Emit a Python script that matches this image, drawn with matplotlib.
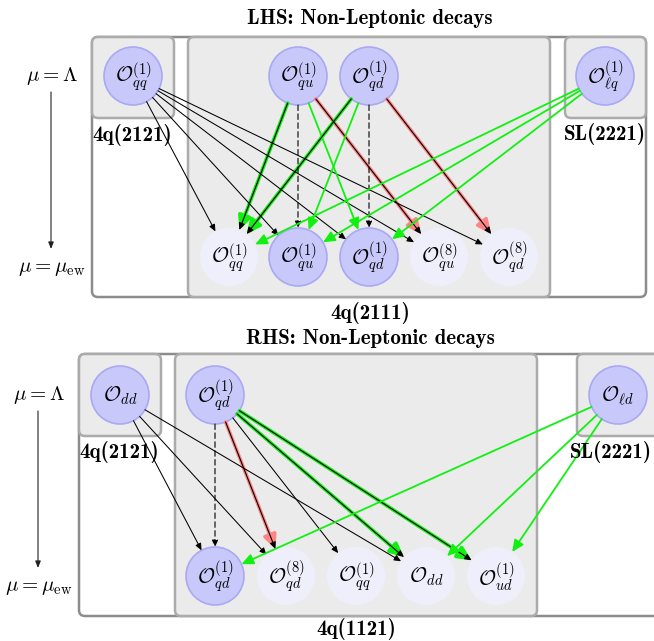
import matplotlib
matplotlib.use("Agg")
import matplotlib.pyplot as plt
from matplotlib.patches import FancyBboxPatch, Circle, FancyArrowPatch
import numpy as np

plt.rcParams['mathtext.fontset'] = 'cm'

# ---------------- data ----------------
titles = ["LHS: Non-Leptonic decays", "RHS: Non-Leptonic decays"]
scale_labels = [r"$\mu = \Lambda$", r"$\mu = \mu_{\rm ew}$"]

# panel 1 (LHS)
lhs_upper = ["qq1", "qu1", "qd1", "lq1"]
lhs_upper_labels = [r"$\mathcal{O}_{qq}^{(1)}$", r"$\mathcal{O}_{qu}^{(1)}$",
                    r"$\mathcal{O}_{qd}^{(1)}$", r"$\mathcal{O}_{\ell q}^{(1)}$"]
lhs_lower = ["qq1", "qu1", "qd1", "qu8", "qd8"]
lhs_lower_labels = [r"$\mathcal{O}_{qq}^{(1)}$", r"$\mathcal{O}_{qu}^{(1)}$",
                    r"$\mathcal{O}_{qd}^{(1)}$", r"$\mathcal{O}_{qu}^{(8)}$",
                    r"$\mathcal{O}_{qd}^{(8)}$"]
lhs_lower_filled = [False, True, True, False, False]
lhs_edges = [  # (from upper, to lower, kind)
    ("qq1", "qq1", "black"), ("qq1", "qu1", "black"), ("qq1", "qd1", "black"),
    ("qq1", "qu8", "black"), ("qq1", "qd8", "black"),
    ("qu1", "qq1", "greenblack"), ("qu1", "qu1", "dashed"),
    ("qu1", "qd1", "green"), ("qu1", "qu8", "redblack"),
    ("qd1", "qq1", "greenblack"), ("qd1", "qu1", "green"),
    ("qd1", "qd1", "dashed"), ("qd1", "qd8", "redblack"),
    ("lq1", "qq1", "green"), ("lq1", "qu1", "green"), ("lq1", "qd1", "green"),
]
lhs_groups = ["4q(2121)", "4q(2111)", "SL(2221)"]

# panel 2 (RHS)
rhs_upper = ["dd", "qd1", "ld"]
rhs_upper_labels = [r"$\mathcal{O}_{dd}$", r"$\mathcal{O}_{qd}^{(1)}$",
                    r"$\mathcal{O}_{\ell d}$"]
rhs_lower = ["qd1", "qd8", "qq1", "dd", "ud1"]
rhs_lower_labels = [r"$\mathcal{O}_{qd}^{(1)}$", r"$\mathcal{O}_{qd}^{(8)}$",
                    r"$\mathcal{O}_{qq}^{(1)}$", r"$\mathcal{O}_{dd}$",
                    r"$\mathcal{O}_{ud}^{(1)}$"]
rhs_lower_filled = [True, False, False, False, False]
rhs_edges = [
    ("dd", "qd1", "black"), ("dd", "qd8", "black"), ("dd", "dd", "black"),
    ("qd1", "qd1", "dashed"), ("qd1", "qd8", "redblack"),
    ("qd1", "qq1", "black"), ("qd1", "dd", "greenblack"),
    ("qd1", "ud1", "greenblack"),
    ("ld", "qd1", "green"), ("ld", "dd", "green"), ("ld", "ud1", "green"),
]
rhs_groups = ["4q(2121)", "4q(1121)", "SL(2221)"]

# ---------------- layout (pixel coordinates) ----------------
W, H = 654, 641
fig = plt.figure(figsize=(W / 100, H / 100), dpi=100)
ax = fig.add_axes([0, 0, 1, 1])
ax.set_xlim(0, W)
ax.set_ylim(H, 0)
ax.axis('off')

R = 29
FILL = '#c8c8fa'
FILL_EDGE = '#a9a9f3'
LIGHT = '#efeffc'
BOXFILL = '#ebebeb'
BOXEDGE = '#ababab'
OUTEREDGE = '#8c8c8c'
GREEN = '#11f011'
RED = '#ff8484'
BOLD = 'cmb10'
MATH_FS = 15
BOLD_FS = 15


def rbox(x0, y0, x1, y1, fc, ec, lw=1.8, z=1):
    p = FancyBboxPatch((x0, y0), x1 - x0, y1 - y0,
                       boxstyle="round,pad=0,rounding_size=6",
                       fc=fc, ec=ec, lw=lw, zorder=z)
    ax.add_patch(p)


def node(x, y, label, filled):
    if filled:
        c = Circle((x, y), R, fc=FILL, ec=FILL_EDGE, lw=1.2, zorder=3)
    else:
        c = Circle((x, y), R, fc=LIGHT, ec='none', zorder=3)
    ax.add_patch(c)
    ax.text(x, y + 1, label, ha='center', va='center', fontsize=MATH_FS, zorder=6)


def arrow(p0, p1, kind):
    p0 = np.array(p0, float)
    p1 = np.array(p1, float)
    d = (p1 - p0) / np.linalg.norm(p1 - p0)
    a = p0 + d * R
    b = p1 - d * R
    if kind == "black":
        ax.add_patch(FancyArrowPatch(a, b, arrowstyle='-|>,head_length=4,head_width=1.8',
                                     color='black', lw=0.75, shrinkA=0, shrinkB=0, zorder=5))
    elif kind == "dashed":
        ax.add_patch(FancyArrowPatch(a, b, arrowstyle='-|>,head_length=4,head_width=1.8',
                                     color='black', lw=0.8, ls=(0, (5, 3)),
                                     shrinkA=0, shrinkB=0, zorder=5))
    elif kind == "green":
        ax.add_patch(FancyArrowPatch(a, b, arrowstyle='-|>,head_length=7,head_width=3.2',
                                     color=GREEN, lw=1.3, shrinkA=0, shrinkB=0, zorder=5))
    elif kind in ("greenblack", "redblack"):
        col = GREEN if kind == "greenblack" else RED
        ax.add_patch(FancyArrowPatch(a, b, arrowstyle='-|>,head_length=8,head_width=3.8',
                                     color=col, lw=2.6, shrinkA=0, shrinkB=0, zorder=4))
        ax.add_patch(FancyArrowPatch(a, b, arrowstyle='-|>,head_length=4,head_width=1.8',
                                     color='black', lw=0.8, shrinkA=0, shrinkB=0, zorder=5))


def panel(title, ty, y_top, y_bot, outer, boxes, group_labels, glab_pos,
          upper, upper_labels, upper_x, lower, lower_labels, lower_x, lower_filled,
          edges, y_up, y_low, mu_x):
    ax.text(370, ty, title, ha='center', va='center', fontsize=BOLD_FS, family=BOLD)
    rbox(outer[0], y_top, outer[1], y_bot, 'white', OUTEREDGE, lw=1.8, z=1)
    for (x0, x1, yb) in boxes:
        rbox(x0, y_top, x1, yb, BOXFILL, BOXEDGE, lw=1.8, z=2)
    for lab, (lx, ly, ha) in zip(group_labels, glab_pos):
        ax.text(lx, ly, lab, ha=ha, va='center', fontsize=BOLD_FS, family=BOLD, zorder=6)
    # scale arrow
    ax.text(mu_x, y_up, scale_labels[0], ha='center', va='center', fontsize=MATH_FS)
    ax.text(mu_x, y_low + 11, scale_labels[1], ha='center', va='center', fontsize=MATH_FS)
    ax.add_patch(FancyArrowPatch((mu_x - 1, y_up + 16), (mu_x - 1, y_low - 8),
                                 arrowstyle='-|>,head_length=4,head_width=1.6',
                                 color='#222222', lw=0.8, shrinkA=0, shrinkB=0))
    up = {}
    for n, lab, x in zip(upper, upper_labels, upper_x):
        node(x, y_up, lab, True)
        up[n] = (x, y_up)
    lo = {}
    for n, lab, x, f in zip(lower, lower_labels, lower_x, lower_filled):
        node(x, y_low, lab, f)
        lo[n] = (x, y_low)
    for s, t, k in edges:
        arrow(up[s], lo[t], k)


# LHS panel
panel(titles[0], 18, 37, 297, (92, 646),
      [(92, 174, 118), (188, 550, 297), (565, 646, 118)],
      lhs_groups, [(92, 135, 'left'), (370, 313, 'center'), (564, 134, 'left')],
      lhs_upper, lhs_upper_labels, [133, 298, 369, 605],
      lhs_lower, lhs_lower_labels, [229, 298, 369, 439, 509], lhs_lower_filled,
      lhs_edges, 76, 257, 52)

# RHS panel
panel(titles[1], 338, 354, 616, (79, 700),
      [(79, 161, 436), (175, 537, 616), (577, 700, 436)],
      rhs_groups, [(79, 452, 'left'), (356, 629, 'center'), (652, 452, 'right')],
      rhs_upper, rhs_upper_labels, [120, 215, 618],
      rhs_lower, rhs_lower_labels, [215, 286, 356, 426, 496], rhs_lower_filled,
      rhs_edges, 395, 576, 39)

fig.savefig("out.png", dpi=100)
